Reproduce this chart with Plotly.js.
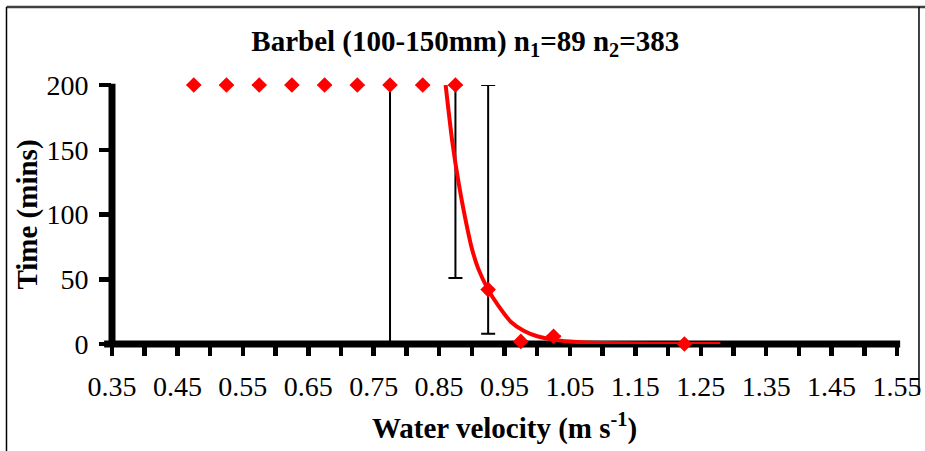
<!DOCTYPE html>
<html>
<head>
<meta charset="utf-8">
<script src="https://cdn.plot.ly/plotly-3.0.1.min.js"></script>
<style>
  html, body { margin: 0; padding: 0; background: #fff; }
  #chart { width: 925px; height: 451px; }
</style>
</head>
<body>
<div id="chart"></div>
<script>
// Observed mean times (mins) per water velocity class (m s-1)
const velocity = [0.475, 0.525, 0.575, 0.625, 0.675, 0.725, 0.775, 0.825, 0.875, 0.925, 0.975, 1.025, 1.225];
const timeMins = [200, 200, 200, 200, 200, 200, 200, 200, 200, 42, 2, 6, 0];
// Asymmetric error bars (null = none)
const errPlus  = [null, null, null, null, null, null, 0, null, 0, 158, null, null, null];
const errMinus = [null, null, null, null, null, null, 200, null, 149, 34, null, null, null];

// Fitted curve
const fitX = [0.86, 0.87, 0.88, 0.89, 0.90, 0.91, 0.925, 0.94, 0.96, 0.98, 1.00, 1.03, 1.06, 1.10, 1.15, 1.20, 1.28];
const fitY = [200, 157, 124, 97, 74, 58, 42, 30, 17, 10, 6, 3, 1.6, 0.8, 0.3, 0.1, 0.05];

const titleText = '<b>Barbel (100-150mm) n<sub>1</sub>=89 n<sub>2</sub>=383</b>';
const xTitle = '<b>Water velocity (m s<sup>-1</sup>)</b>';
const yTitle = '<b>Time (mins)</b>';

const FONT = '"Liberation Serif", "Times New Roman", serif';

const traces = [
  {
    type: 'scatter', mode: 'markers',
    x: velocity, y: timeMins,
    marker: { symbol: 'diamond', size: 12, color: '#ff0000', line: { width: 0 } },
    error_y: { type: 'data', symmetric: false, array: errPlus, arrayminus: errMinus,
               color: '#000000', thickness: 2, width: 7 },
    cliponaxis: false, showlegend: false, hoverinfo: 'skip'
  },
  {
    type: 'scatter', mode: 'lines',
    x: fitX, y: fitY,
    line: { color: '#ff0000', width: 4, shape: 'spline', smoothing: 0.6 },
    cliponaxis: false, showlegend: false, hoverinfo: 'skip'
  }
];

const layout = {
  width: 925, height: 451,
  margin: { l: 112, r: 28, t: 85, b: 107 },
  paper_bgcolor: '#ffffff',
  plot_bgcolor: 'rgba(0,0,0,0)',
  font: { family: FONT, color: '#000000' },
  title: {
    text: titleText,
    font: { family: FONT, size: 29, color: '#000000' },
    x: 0.503, xref: 'container', xanchor: 'center',
    y: 0.91, yref: 'container', yanchor: 'middle'
  },
  xaxis: {
    range: [0.35, 1.55],
    tick0: 0.35, dtick: 0.1, tickformat: '.2f',
    ticks: 'outside', ticklen: 11, tickwidth: 4.5, tickcolor: '#000000',
    minor: { tick0: 0.35, dtick: 0.05, ticks: 'outside', ticklen: 11, tickwidth: 4.5, tickcolor: '#000000', showgrid: false },
    showline: false, showgrid: false, zeroline: false,
    tickfont: { family: FONT, size: 28, color: '#000000' },
    ticklabelstandoff: 6,
    title: { text: xTitle, font: { family: FONT, size: 29, color: '#000000' }, standoff: 17 }
  },
  yaxis: {
    range: [0, 200],
    tick0: 0, dtick: 50,
    ticks: 'outside', ticklen: 12, tickwidth: 4.5, tickcolor: '#000000',
    showline: false, showgrid: false, zeroline: false,
    tickfont: { family: FONT, size: 28, color: '#000000' },
    ticklabelstandoff: 5,
    title: { text: yTitle, font: { family: FONT, size: 29, color: '#000000' }, standoff: 0 }
  },
  shapes: [
    // y axis line
    { type: 'line', xref: 'paper', yref: 'paper', x0: 0, x1: 0, y0: 0, y1: 1.005,
      line: { color: '#000000', width: 7 }, layer: 'below' },
    // x axis line
    { type: 'line', xref: 'paper', yref: 'paper', x0: -0.01, x1: 1.004, y0: 0, y1: 0,
      line: { color: '#000000', width: 7 }, layer: 'below' },
    // frame: top
    { type: 'line', xref: 'paper', yref: 'paper', x0: -0.1344, x1: 1.05, y0: 1.3012, y1: 1.3012,
      line: { color: '#404040', width: 2.5 }, layer: 'below' },
    // frame: left
    { type: 'line', xref: 'paper', yref: 'paper', x0: -0.1344, x1: -0.1344, y0: 1.3012, y1: -0.42,
      line: { color: '#000000', width: 1.5 }, layer: 'below' },
    // frame: right
    { type: 'line', xref: 'paper', yref: 'paper', x0: 1.028, x1: 1.028, y0: 1.3012, y1: -0.197,
      line: { color: '#000000', width: 1.5 }, layer: 'below' }
  ]
};

Plotly.newPlot('chart', traces, layout, { staticPlot: true, displayModeBar: false });
</script>
</body>
</html>
